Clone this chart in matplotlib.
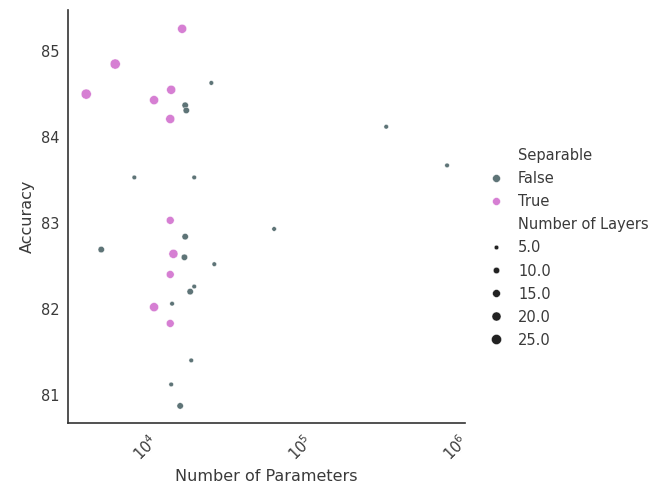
import matplotlib
matplotlib.use("Agg")
import matplotlib.pyplot as plt
from matplotlib.lines import Line2D
import numpy as np

# data
params_true = [17300, 6400, 4160, 14700, 11400, 14500, 14500, 15200, 14500, 11400, 14500]
acc_true = [85.26, 84.85, 84.50, 84.55, 84.43, 84.21, 83.03, 82.64, 82.40, 82.02, 81.83]
layers_true = [20, 25, 25, 20, 20, 20, 15, 20, 15, 20, 15]

params_false = [26700, 18100, 18400, 8500, 20700, 18100, 5200, 17900, 27900, 20700,
                19500, 14900, 19800, 14700, 16800, 67900, 359000, 887000]
acc_false = [84.63, 84.37, 84.31, 83.53, 83.53, 82.84, 82.69, 82.60, 82.52, 82.26,
             82.20, 82.06, 81.40, 81.12, 80.87, 82.93, 84.12, 83.67]
layers_false = [5, 10, 10, 5, 5, 10, 10, 10, 5, 5, 10, 5, 5, 5, 10, 5, 5, 5]

legend_layers = [5.0, 10.0, 15.0, 20.0, 25.0]

c_false = "#5e7477"
c_true = "#d67fd3"
text_c = "#3a3a3a"


def area(L):
    return 11 + (np.asarray(L, dtype=float) - 5) * 2.1


plt.rcParams["font.family"] = "DejaVu Sans"
fig = plt.figure(figsize=(6.58, 4.96), dpi=100)
ax = fig.add_axes([0.103, 0.147, 0.604, 0.833])

ax.scatter(params_false, acc_false, s=area(layers_false), c=c_false,
           edgecolors="white", linewidths=0.3, zorder=3)
ax.scatter(params_true, acc_true, s=area(layers_true), c=c_true,
           edgecolors="white", linewidths=0.3, zorder=3)

ax.set_xscale("log")
ax.set_xlim(10 ** 3.5, 10 ** 6.065)
ax.set_ylim(80.67, 85.48)
ax.set_xticks([1e4, 1e5, 1e6])
ax.minorticks_off()
ax.set_yticks([81, 82, 83, 84, 85])
ax.tick_params(length=0, labelsize=10.5, labelcolor=text_c, pad=6)
plt.setp(ax.get_xticklabels(), rotation=45)
ax.set_xlabel("Number of Parameters", fontsize=11.5, color=text_c)
ax.set_ylabel("Accuracy", fontsize=11.5, color=text_c)

for side in ["top", "right"]:
    ax.spines[side].set_visible(False)
for side in ["left", "bottom"]:
    ax.spines[side].set_color("#333333")
    ax.spines[side].set_linewidth(1.2)

handles = [Line2D([], [], linestyle="none", marker="o", markersize=0)]
labels = ["Separable"]
for col, lab in [(c_false, "False"), (c_true, "True")]:
    handles.append(Line2D([], [], linestyle="none", marker="o", color=col,
                          markeredgecolor="white", markeredgewidth=0.3,
                          markersize=np.sqrt(area(15))))
    labels.append(lab)
handles.append(Line2D([], [], linestyle="none", marker="o", markersize=0))
labels.append("Number of Layers")
for L in legend_layers:
    handles.append(Line2D([], [], linestyle="none", marker="o", color="#222222",
                          markeredgecolor="white", markeredgewidth=0.3,
                          markersize=np.sqrt(area(L))))
    labels.append(str(L))

leg = fig.legend(handles, labels, loc="center left", bbox_to_anchor=(0.712, 0.5),
                 frameon=False, fontsize=10.5, labelspacing=0.55,
                 handletextpad=0.5)
for t in leg.get_texts():
    t.set_color(text_c)

fig.savefig("out.png", dpi=100)
